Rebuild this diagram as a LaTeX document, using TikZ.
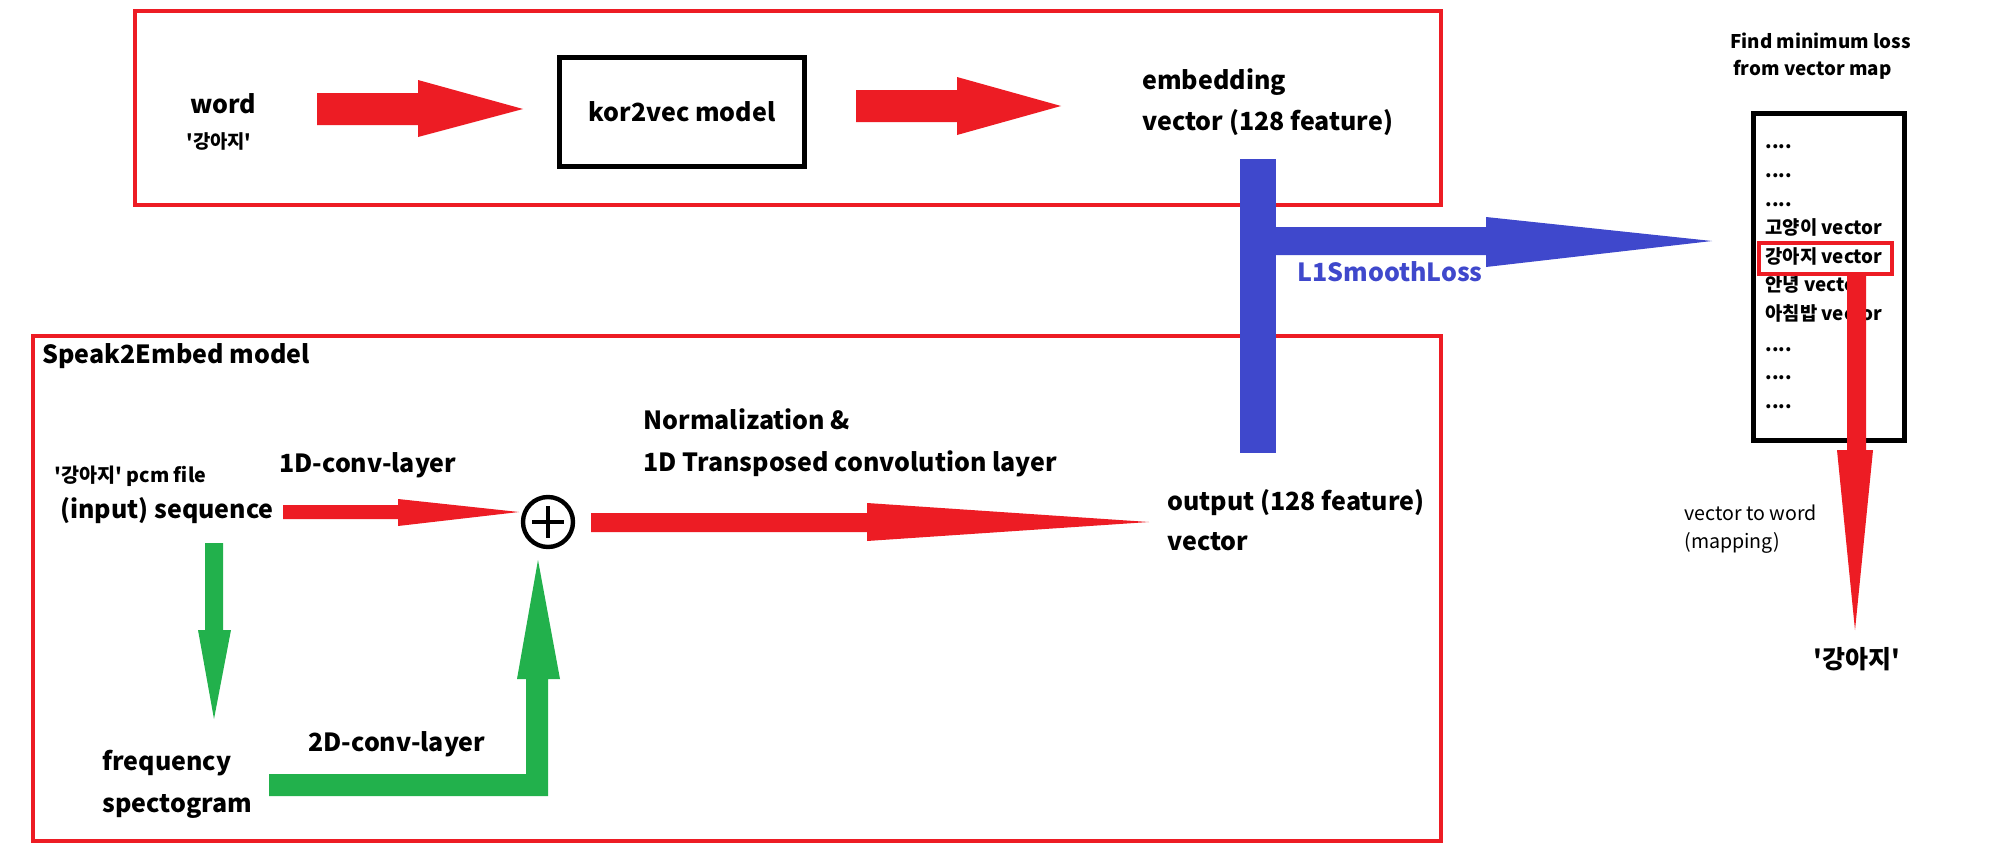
\documentclass[tikz,border=0pt]{standalone}
\usepackage{fontspec}
\setmainfont{Noto Sans CJK KR}[Ligatures=TeXOff]
\usetikzlibrary{calc}
\definecolor{pred}{HTML}{ED1C24}
\definecolor{pblue}{HTML}{3F48CC}
\definecolor{pgreen}{HTML}{22B14C}
\begin{document}
\begin{tikzpicture}[x=0.5pt,y=-0.5pt,
  lbl/.style={anchor=west,inner sep=0pt,text height=0.75em,text depth=0.2em,font=\bfseries\fontsize{12.5}{15}\selectfont},
  small/.style={lbl,font=\bfseries\fontsize{9.4}{11}\selectfont},
  smallreg/.style={lbl,font=\fontsize{9.8}{12}\selectfont},
  redframe/.style={draw=pred,line width=2pt},
  blackframe/.style={draw=black,line width=2.5pt},
  redarrow/.style={fill=pred},
  bluearrow/.style={fill=pblue},
  greenarrow/.style={fill=pgreen}]
\fill[white] (0,0) rectangle (2002,867);
\useasboundingbox (0,0) rectangle (2002,867);

% frames
\draw[redframe] (135,11) rectangle (1441,205);
\draw[redframe] (33,336) rectangle (1441,841);

% top row
\node[lbl] (word) at (190,108) {word};
\node[small] (wordkr) at (186,143) {'강아지'};
\node[blackframe,minimum width=122.5pt,minimum height=54.5pt,inner sep=0pt,
      font=\bfseries\fontsize{12.5}{15}\selectfont] (kor) at (682,112) {kor2vec model};
\node[lbl] (emb1) at (1142,84) {embedding};
\node[lbl] (emb2) at (1142,125) {vector (128 feature)};

\fill[redarrow] (317,93) -- (418,93) -- (418,80) -- (523,109) -- (418,137) -- (418,125) -- (317,125) -- cycle;
\fill[redarrow] (856,90) -- (957,90) -- (957,77) -- (1061,106) -- (957,135) -- (957,122) -- (856,122) -- cycle;

% bottom box content
\node[lbl] (title) at (42,358) {Speak2Embed model};
\node[lbl] (pcm) at (54,477) {\fontsize{9.8}{12}\selectfont'강아지' pcm file};
\node[lbl] (seq) at (60,513) {(input) sequence};
\node[lbl] (conv1) at (279,467) {1D-conv-layer};
\node[lbl] (norm1) at (643,424) {Normalization \&};
\node[lbl] (norm2) at (643,466) {1D Transposed convolution layer};
\node[lbl] (out1) at (1167,505) {output (128 feature)};
\node[lbl] (out2) at (1167,545) {vector};
\node[lbl] (freq) at (102,765) {frequency};
\node[lbl] (spec) at (102,807) {spectogram};
\node[lbl] (conv2) at (308,746) {2D-conv-layer};

\node[circle,draw=black,line width=2.2pt,minimum size=25pt,inner sep=0pt] (plus) at (548,522) {};
\draw[line width=2.4pt] ($(plus.center)+(-16,0)$) -- ($(plus.center)+(16,0)$);
\draw[line width=2.4pt] ($(plus.center)+(0,-16)$) -- ($(plus.center)+(0,16)$);

\fill[redarrow] (283,505) -- (398,505) -- (398,499) -- (519,512) -- (398,526) -- (398,519) -- (283,519) -- cycle;
\fill[redarrow] (591,513) -- (867,513) -- (867,503) -- (1149,522) -- (867,541) -- (867,532) -- (591,532) -- cycle;

\fill[greenarrow] (205,543) -- (223,543) -- (223,630) -- (231,630) -- (214,719) -- (198,630) -- (205,630) -- cycle;
\fill[greenarrow] (269,774) -- (526,774) -- (526,679) -- (517,679) -- (538,560) -- (560,679) -- (548,679) -- (548,796) -- (269,796) -- cycle;

% blue loss
\fill[bluearrow] (1240,159) rectangle (1276,453);
\fill[bluearrow] (1276,227) -- (1486,227) -- (1486,217) -- (1712,241) -- (1486,267) -- (1486,255) -- (1276,255) -- cycle;
\node[lbl,text=pblue] (loss) at (1297,276) {L1SmoothLoss};

% vector map
\node[small] (find1) at (1730,43) {Find minimum loss};
\node[small] (find2) at (1733,70) {from vector map};
\draw[blackframe] (1753,113) rectangle (1904,440);
\node[small] (d1) at (1765,143) {....};
\node[small] (d2) at (1765,172) {....};
\node[small] (d3) at (1765,201) {....};
\node[small] (cat) at (1765,229) {고양이 vector};
\node[small] (dog) at (1765,258) {강아지 vector};
\node[small] (hi) at (1765,286) {안녕 vector};
\node[small] (bf) at (1765,315) {아침밥 vector};
\node[small] (d4) at (1765,346) {....};
\node[small] (d5) at (1765,374) {....};
\node[small] (d6) at (1765,403) {....};
\draw[redframe] (1759,243) rectangle (1892,274);

\fill[redarrow] (1847,275) -- (1866,275) -- (1866,450) -- (1873,450) -- (1855,630) -- (1837,450) -- (1847,450) -- cycle;
\node[smallreg] (vtw1) at (1684,515) {vector to word};
\node[smallreg] (vtw2) at (1684,543) {(mapping)};
\node[lbl,anchor=center] (final) at (1857,663) {'강아지'};
\end{tikzpicture}
\end{document}
